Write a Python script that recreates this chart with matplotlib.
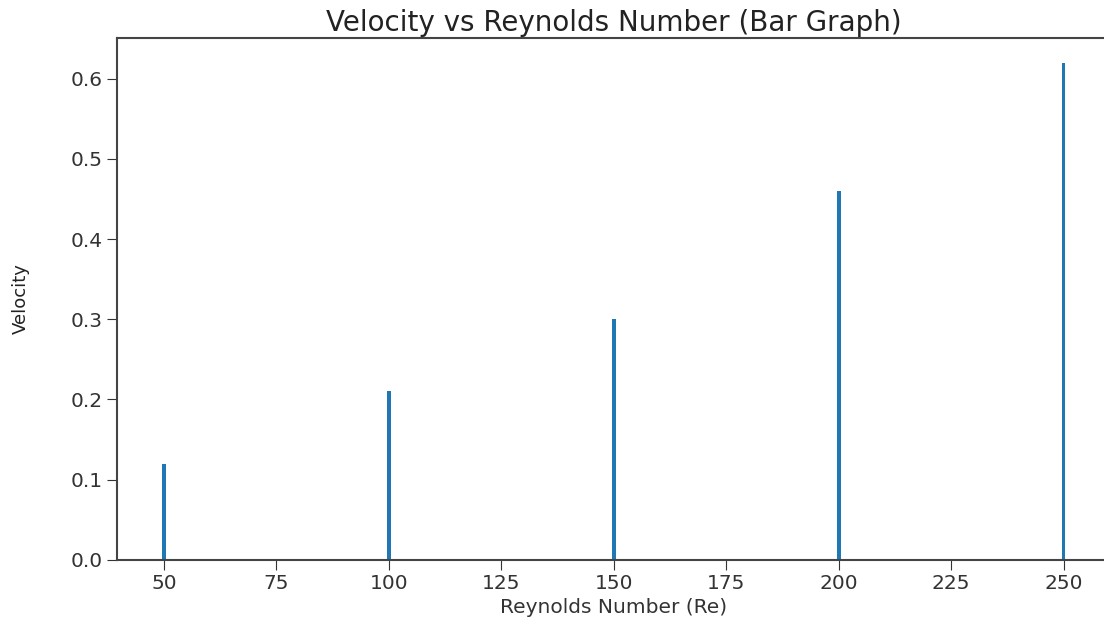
import matplotlib
matplotlib.use("Agg")
import matplotlib.pyplot as plt

reynolds = [50, 100, 150, 200, 250]
velocity = [0.12, 0.21, 0.30, 0.46, 0.62]

fig = plt.figure(figsize=(11.04, 6.22), dpi=100)
# the reference is cropped on the right, so the axes run past the edge
ax = fig.add_axes([0.106, 0.1, 0.9, 0.839])
ax.bar(reynolds, velocity)

ax.set_title("Velocity vs Reynolds Number (Bar Graph)", fontsize=20, color="#222222", pad=5)
ax.set_xlabel("Reynolds Number (Re)", fontsize=14.5, color="#333333", labelpad=3)
ax.set_ylabel("Velocity", fontsize=13, color="#222222")
ax.yaxis.set_label_coords(-0.088, 0.5)
ax.tick_params(labelsize=14.5, length=7, colors="#333333")
ax.spines["right"].set_visible(False)
for side in ax.spines.values():
    side.set_color("#444444")
    side.set_linewidth(1.5)

fig.savefig("out.png", dpi=100)
